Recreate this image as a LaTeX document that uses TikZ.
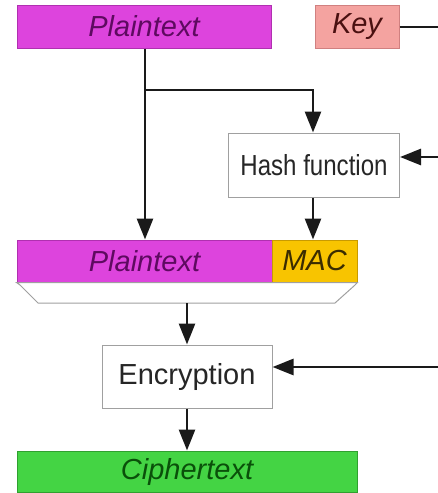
\documentclass[tikz,border=0pt]{standalone}
\usepackage{fontspec}
\setmainfont{Liberation Sans}
\usetikzlibrary{arrows.meta}
\definecolor{magfill}{HTML}{DD44DD}
\definecolor{magdraw}{HTML}{B030B0}
\definecolor{magtext}{HTML}{5E0A60}
\definecolor{keyfill}{HTML}{F4A3A0}
\definecolor{keydraw}{HTML}{D08080}
\definecolor{keytext}{HTML}{4A1010}
\definecolor{macfill}{HTML}{F8C400}
\definecolor{macdraw}{HTML}{C89A00}
\definecolor{mactext}{HTML}{3A2C00}
\definecolor{cipfill}{HTML}{44D444}
\definecolor{cipdraw}{HTML}{30A030}
\definecolor{ciptext}{HTML}{0A500A}
\definecolor{boxdraw}{HTML}{A0A0A0}
\definecolor{linecol}{HTML}{1A1A1A}
\tikzset{
  blk/.style={rectangle, inner sep=0pt, line width=1pt, font=\fontsize{29}{32}\selectfont},
  databox/.style={blk, font=\fontsize{29}{32}\selectfont\itshape},
  procbox/.style={blk, draw=boxdraw, fill=white, text=black!85},
  conn/.style={line width=2.6pt, draw=linecol, -{Triangle[length=21pt,width=16pt]}},
  plainline/.style={line width=2.6pt, draw=linecol},
}
\begin{document}
\begin{tikzpicture}[x=1pt,y=-1pt]
\useasboundingbox (0,0) rectangle (438,493);
% top row
\node[databox, draw=magdraw, fill=magfill, text=magtext, minimum width=254pt, minimum height=43pt] (pt1) at (144,26.5) {Plaintext};
\node[databox, draw=keydraw, fill=keyfill, text=keytext, minimum width=84pt, minimum height=43pt] (key) at (357,26.5) {Key};
% hash
\node[procbox, minimum width=171pt, minimum height=64pt] (hash) at (314,165) {\scalebox{0.83}[1]{Hash function}};
% plaintext + MAC
\node[databox, draw=magdraw, fill=magfill, text=magtext, minimum width=255pt, minimum height=42pt] (pt2) at (144.5,261) {Plaintext};
\node[databox, draw=macdraw, fill=macfill, text=mactext, minimum width=85pt, minimum height=42pt] (mac) at (314.5,261) {MAC};
% trapezoid
\draw[draw=boxdraw, fill=white, line width=1pt] (pt2.south west) -- (mac.south east) -- ++(-3,3) -- (335,303) -- (38,303) -- (20,285) -- cycle;
\coordinate (trapbot) at (187,303);
% encryption
\node[procbox, minimum width=170pt, minimum height=63pt] (enc) at (187,376.5) {Encryption};
% ciphertext
\node[databox, draw=cipdraw, fill=cipfill, text=ciptext, minimum width=340pt, minimum height=41pt] (cip) at (187,471.5) {Ciphertext};
% connectors
\coordinate (split) at (145,90);
\draw[plainline] (pt1.south -| split) -- (split);
\draw[conn] (split) -- (split |- pt2.north);
\draw[conn] (split) -| (hash.north -| 313,0);
\draw[conn] (hash.south -| 313,0) -- (mac.north -| 313,0);
\draw[conn] (trapbot) -- (enc.north);
\draw[conn] (enc.south) -- (cip.north);
% key lines
\coordinate (rtop) at (441,27);
\coordinate (rmid) at (441,157);
\coordinate (rbot) at (441,367);
\draw[plainline] (key.east |- rtop) -- (rtop) -- (rbot);
\draw[conn] (rmid) -- (hash.east |- rmid);
\draw[conn] (rbot) -- (enc.east |- rbot);
\end{tikzpicture}
\end{document}
